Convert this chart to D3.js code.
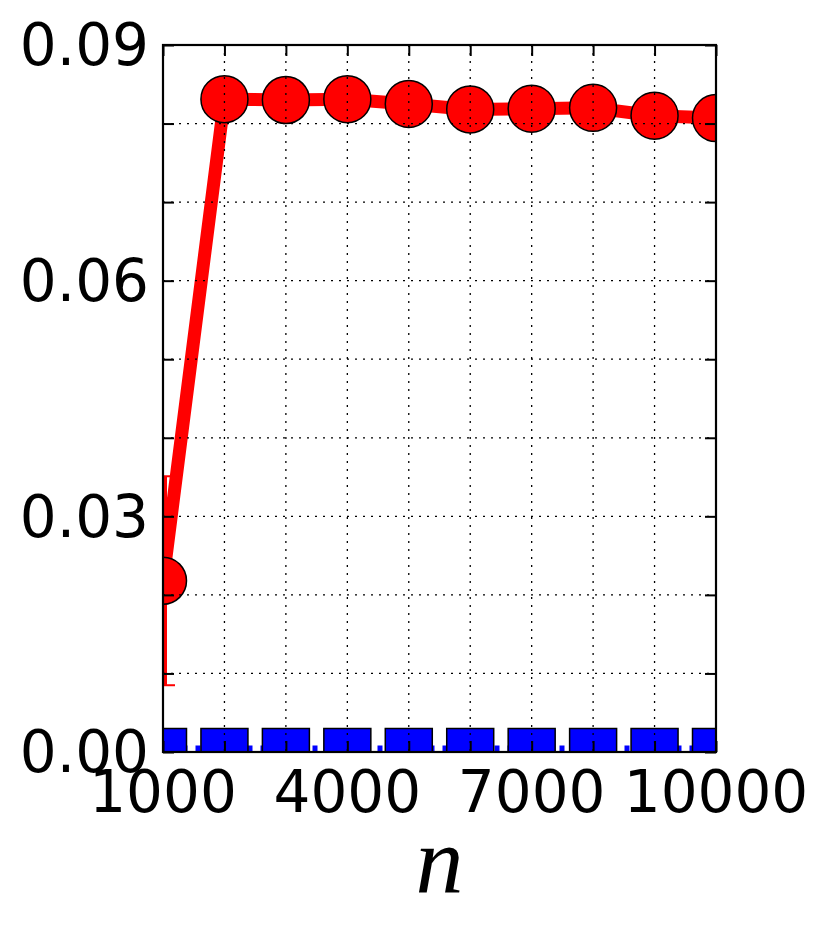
<!DOCTYPE html>
<html>
<head>
<meta charset="utf-8">
<script src="https://cdn.jsdelivr.net/npm/d3@7"></script>
<style>
  body { margin: 0; background: #fff; }
  svg { display: block; }
</style>
</head>
<body>
<div id="chart"></div>
<script>
// data
var nValues   = [1000, 2000, 3000, 4000, 5000, 6000, 7000, 8000, 9000, 10000];
var redValues = [0.0218, 0.0831, 0.0830, 0.0831, 0.0825, 0.0818, 0.0819, 0.0820, 0.0810, 0.0807];
var redErr    = [0.0133, 0.0006, 0.0005, 0.0005, 0.0005, 0.0004, 0.0004, 0.0004, 0.0004, 0.0004];
var blueValues = [0.0000, 0.0000, 0.0000, 0.0000, 0.0000, 0.0000, 0.0000, 0.0000, 0.0000, 0.0000];
var xTicks = [1000, 2000, 3000, 4000, 5000, 6000, 7000, 8000, 9000, 10000];
var xTickLabels = [1000, 4000, 7000, 10000];
var yTicks = [0, 0.01, 0.02, 0.03, 0.04, 0.05, 0.06, 0.07, 0.08, 0.09];
var yTickLabels = [0, 0.03, 0.06, 0.09];

// set the dimensions and margins of the graph
var W = 831, H = 928;
var margin = {top: 45, right: 115, bottom: 176, left: 163},
    width = W - margin.left - margin.right,
    height = H - margin.top - margin.bottom;

var svg = d3.select("#chart")
  .append("svg")
    .attr("width", W)
    .attr("height", H)
  .append("g")
    .attr("transform", "translate(" + margin.left + "," + margin.top + ")");

var x = d3.scaleLinear().domain([1000, 10000]).range([0, width]);
var y = d3.scaleLinear().domain([0, 0.09]).range([height, 0]);

svg.append("clipPath").attr("id", "plotclip")
  .append("rect").attr("width", width).attr("height", height);

var plot = svg.append("g").attr("clip-path", "url(#plotclip)");

var rows = nValues.map(function(n, i) {
  return {n: n, red: redValues[i], err: redErr[i], blue: blueValues[i]};
});

var line = d3.line();

// blue series: dashed line + square markers
plot.append("path")
  .attr("d", line(rows.map(function(d) { return [x(d.n), y(d.blue)]; })))
  .attr("fill", "none")
  .attr("stroke", "#0000ff")
  .attr("stroke-width", 13)
  .attr("stroke-dasharray", "5,8")
  .attr("stroke-dashoffset", 6.5);

var sq = 47;
plot.selectAll("blueSquares")
  .data(rows)
  .enter()
  .append("rect")
    .attr("x", function(d) { return x(d.n) - sq / 2; })
    .attr("y", function(d) { return y(d.blue) - sq / 2; })
    .attr("width", sq)
    .attr("height", sq)
    .attr("fill", "#0000ff")
    .attr("stroke", "#000")
    .attr("stroke-width", 1.5);

// red series: error bars, line, circle markers
var cap = 12;
var eb = plot.selectAll("redErr")
  .data(rows)
  .enter()
  .append("g");
eb.append("line")
  .attr("x1", function(d) { return x(d.n); })
  .attr("x2", function(d) { return x(d.n); })
  .attr("y1", function(d) { return y(d.red - d.err); })
  .attr("y2", function(d) { return y(d.red + d.err); })
  .attr("stroke", "#ff0000")
  .attr("stroke-width", 8);
eb.append("line")
  .attr("x1", function(d) { return x(d.n) - cap; })
  .attr("x2", function(d) { return x(d.n) + cap; })
  .attr("y1", function(d) { return y(d.red - d.err); })
  .attr("y2", function(d) { return y(d.red - d.err); })
  .attr("stroke", "#ff0000")
  .attr("stroke-width", 2);
eb.append("line")
  .attr("x1", function(d) { return x(d.n) - cap; })
  .attr("x2", function(d) { return x(d.n) + cap; })
  .attr("y1", function(d) { return y(d.red + d.err); })
  .attr("y2", function(d) { return y(d.red + d.err); })
  .attr("stroke", "#ff0000")
  .attr("stroke-width", 2);

plot.append("path")
  .attr("d", line(rows.map(function(d) { return [x(d.n), y(d.red)]; })))
  .attr("fill", "none")
  .attr("stroke", "#ff0000")
  .attr("stroke-width", 13)
  .attr("stroke-linejoin", "round");

plot.selectAll("redDots")
  .data(rows)
  .enter()
  .append("circle")
    .attr("cx", function(d) { return x(d.n); })
    .attr("cy", function(d) { return y(d.red); })
    .attr("r", 23.5)
    .attr("fill", "#ff0000")
    .attr("stroke", "#000")
    .attr("stroke-width", 1.5);

// dotted grid on top of the data (classic style)
var grid = svg.append("g");
grid.selectAll("vgrid")
  .data(xTicks)
  .enter()
  .append("line")
    .attr("x1", function(d) { return x(d); })
    .attr("x2", function(d) { return x(d); })
    .attr("y1", 0)
    .attr("y2", height);
grid.selectAll("hgrid")
  .data(yTicks)
  .enter()
  .append("line")
    .attr("x1", 0)
    .attr("x2", width)
    .attr("y1", function(d) { return y(d); })
    .attr("y2", function(d) { return y(d); });
grid.selectAll("line")
  .attr("stroke", "#000")
  .attr("stroke-width", 1.3)
  .attr("stroke-dasharray", "2,6");

// inward ticks on all four sides
var tickLen = 11;
var axisFont = "'DejaVu Sans', sans-serif";

svg.append("g")
  .attr("transform", "translate(0," + height + ")")
  .call(d3.axisBottom(x).tickValues(xTicks).tickSizeInner(-tickLen).tickSizeOuter(0).tickFormat(""));
svg.append("g")
  .call(d3.axisTop(x).tickValues(xTicks).tickSizeInner(-tickLen).tickSizeOuter(0).tickFormat(""));
svg.append("g")
  .call(d3.axisLeft(y).tickValues(yTicks).tickSizeInner(-tickLen).tickSizeOuter(0).tickFormat(""));
svg.append("g")
  .attr("transform", "translate(" + width + ",0)")
  .call(d3.axisRight(y).tickValues(yTicks).tickSizeInner(-tickLen).tickSizeOuter(0).tickFormat(""));

svg.selectAll(".tick line").attr("stroke", "#000").attr("stroke-width", 2);
svg.selectAll(".domain").remove();

// frame
svg.append("rect")
  .attr("width", width)
  .attr("height", height)
  .attr("fill", "none")
  .attr("stroke", "#000")
  .attr("stroke-width", 2.2);

// tick labels
svg.selectAll("xLabels")
  .data(xTickLabels)
  .enter()
  .append("text")
    .attr("x", function(d) { return x(d); })
    .attr("y", height + 60)
    .attr("text-anchor", "middle")
    .style("font-family", axisFont)
    .style("font-size", "58px")
    .text(function(d) { return d; });

svg.selectAll("yLabels")
  .data(yTickLabels)
  .enter()
  .append("text")
    .attr("x", -14)
    .attr("y", function(d) { return y(d); })
    .attr("dy", "0.35em")
    .attr("text-anchor", "end")
    .style("font-family", axisFont)
    .style("font-size", "58px")
    .text(function(d) { return d3.format(".2f")(d); });

// x axis title
svg.append("text")
  .attr("x", width / 2)
  .attr("y", height + 141)
  .attr("text-anchor", "middle")
  .style("font-family", "'Liberation Serif', 'DejaVu Serif', serif")
  .style("font-style", "italic")
  .style("font-size", "96px")
  .text("n");
</script>
</body>
</html>
